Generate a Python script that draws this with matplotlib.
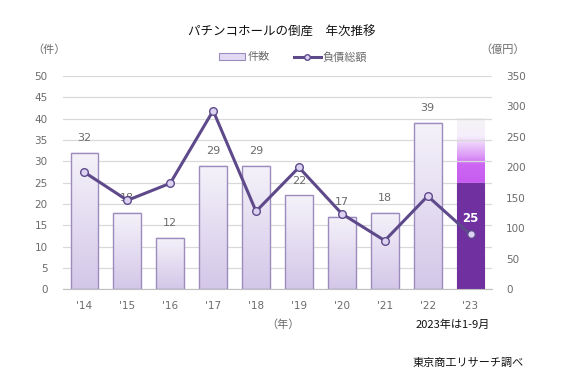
import matplotlib
matplotlib.use("Agg")
import matplotlib.pyplot as plt
import numpy as np
from matplotlib.patches import Patch, Rectangle
from matplotlib.lines import Line2D
from matplotlib.colors import LinearSegmentedColormap

plt.rcParams['font.family'] = ['DejaVu Sans', 'Noto Sans CJK JP']
JP = ['Noto Sans CJK JP', 'DejaVu Sans']

years = ["'14", "'15", "'16", "'17", "'18", "'19", "'20", "'21", "'22", "'23"]
cases = [32, 18, 12, 29, 29, 22, 17, 18, 39, 25]
debt = [192, 146, 174, 293, 128, 200, 124, 80, 153, 90]
ghost_top = 40  # faded projection over the 2023 bar

fig = plt.figure(figsize=(5.64, 3.84), dpi=100)
ax = fig.add_axes([63/564, 1-289.4/384, 429/564, 213.5/384])
ax2 = ax.twinx()

x = np.arange(len(years))
bw = 0.65
gray = '#6b6b6b'

bar_cmap = LinearSegmentedColormap.from_list('b', ['#d3c7e8', '#f5f2fa'])
ghost_cmap = LinearSegmentedColormap.from_list('g', [
    (0.0, '#c75cf0'), (0.28, '#cc66f2'), (0.42, '#dc9af6'),
    (0.72, '#f6eefc'), (1.0, '#f4f4f4')])
grad = np.linspace(0, 1, 256).reshape(-1, 1)

n = len(years)
for i in range(n):
    if i == n - 1:
        ax.imshow(grad, extent=[x[i]-bw/2, x[i]+bw/2, cases[i], ghost_top],
                  origin='lower', aspect='auto', cmap=ghost_cmap, zorder=0.4)
        r = Rectangle((x[i]-bw/2, 0), bw, cases[i], facecolor='#7030a0',
                      edgecolor='#7030a0', linewidth=0.8, zorder=2)
        ax.add_patch(r)
        ax.text(x[i], 16.7, str(cases[i]), ha='center', va='center', color='white',
                fontsize=8.5, fontweight='bold', zorder=5)
    else:
        r = Rectangle((x[i]-bw/2, 0), bw, cases[i], facecolor='none',
                      edgecolor='#9c8cbd', linewidth=1.0, zorder=2.1)
        ax.add_patch(r)
        ax.imshow(grad, extent=[x[i]-bw/2, x[i]+bw/2, 0, cases[i]],
                  origin='lower', aspect='auto', cmap=bar_cmap, zorder=2)
        ax.text(x[i], cases[i] + 3.5, str(cases[i]), ha='center', va='center',
                color=gray, fontsize=8, zorder=3)

ax.set_xlim(-0.5, n - 0.5)
ax.set_ylim(0, 50)
ax.set_yticks(range(0, 51, 5))
ax.set_xticks(x)
ax.set_xticklabels(years)
ax.set_axisbelow(True)
ax.yaxis.grid(True, color='#d9d9d9', linewidth=0.9)
for s in ['top', 'left', 'right']:
    ax.spines[s].set_visible(False)
ax.spines['bottom'].set_color('#bfbfbf')
ax.tick_params(axis='both', length=0, labelsize=7.5, labelcolor=gray)
ax.tick_params(axis='y', pad=11)
ax.tick_params(axis='x', pad=8)

ax2.plot(x, debt, color='#5e4a8a', linewidth=2.2, marker='o', markersize=5.5,
         markerfacecolor='#dcd2f2', markeredgecolor='#5e4a8a', markeredgewidth=1.0,
         zorder=4)
ax2.set_ylim(0, 350)
ax2.set_yticks(range(0, 351, 50))
for s in ['top', 'left', 'right', 'bottom']:
    ax2.spines[s].set_visible(False)
ax2.tick_params(axis='y', length=0, labelsize=7.5, labelcolor=gray, pad=10)

fig.text(282/564, 1-32/384, 'パチンコホールの倒産　年次推移', ha='center', va='center',
         fontsize=9, color='#111111', family=JP)

handles = [Patch(facecolor='#e2daf2', edgecolor='#9a8cc0', linewidth=0.8),
           Line2D([], [], color='#5e4a8a', linewidth=2.2, marker='o', markersize=4,
                  markerfacecolor='#dcd2f2', markeredgecolor='#5e4a8a')]
fig.legend(handles, ['件数', '負債総額'], loc='center',
           bbox_to_anchor=(293/564, 1-57/384), ncol=2, frameon=False,
           prop={'family': JP, 'size': 8}, handlelength=2.4, handleheight=0.6,
           columnspacing=2.2, handletextpad=0.2, labelcolor=gray)

fig.text(49/564, 1-50/384, '（件）', ha='center', va='center', fontsize=8,
         color=gray, family=JP)
fig.text(503/564, 1-50/384, '（億円）', ha='center', va='center', fontsize=8,
         color=gray, family=JP)
fig.text(283/564, 1-325/384, '（年）', ha='center', va='center', fontsize=8,
         color=gray, family=JP)
fig.text(453/564, 1-325/384, '2023年は1-9月', ha='center', va='center', fontsize=8,
         color='#111111', family=JP)
fig.text(468/564, 1-363/384, '東京商工リサーチ調べ', ha='center', va='center',
         fontsize=8, color='#111111', family=JP)

fig.savefig('out.png', dpi=100)
